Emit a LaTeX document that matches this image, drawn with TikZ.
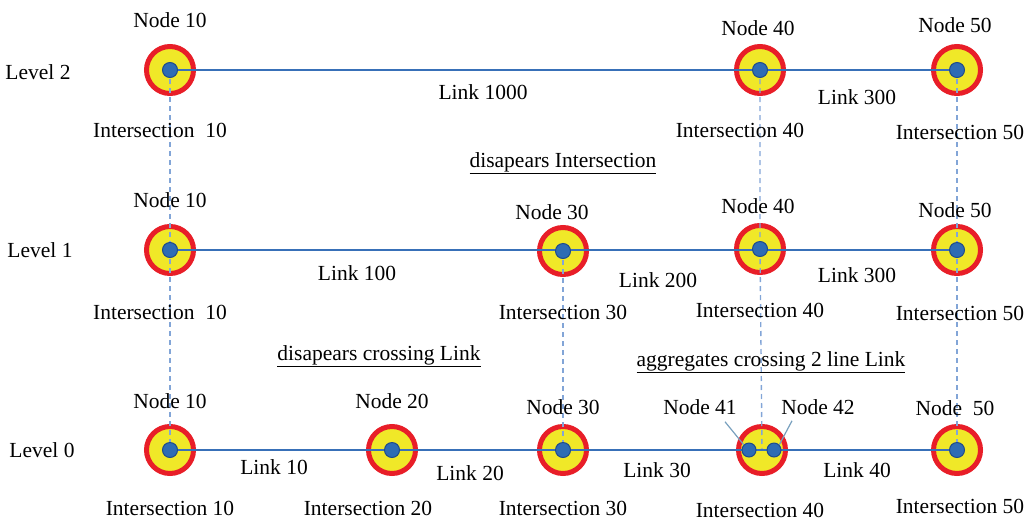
\documentclass[tikz,border=0pt]{standalone}
\usepackage{fontspec}
\setmainfont{Liberation Serif}
\begin{document}
\begin{tikzpicture}[x=1pt,y=-1pt,
  every node/.style={font=\fontsize{21.5}{24}\selectfont, inner sep=0pt},
  ring/.style={circle, draw={rgb,255:red,232;green,30;blue,40}, line width=5pt, fill={rgb,255:red,240;green,232;blue,40}, minimum size=47pt},
  dot/.style={circle, fill={rgb,255:red,46;green,108;blue,180}, draw={rgb,255:red,30;green,75;blue,140}, line width=1pt, minimum size=15pt},
  link/.style={draw={rgb,255:red,56;green,112;blue,184}, line width=2.4pt},
  inter/.style={draw={rgb,255:red,130;green,165;blue,215}, line width=1.4pt, dash pattern=on 5pt off 4pt},
  lead/.style={draw={rgb,255:red,120;green,160;blue,190}, line width=1.2pt}]
\useasboundingbox (0,0) rectangle (1035,520);
% rings
\node[ring] (c2-10) at (170,70) {};
\node[ring] (c2-40) at (760,70) {};
\node[ring] (c2-50) at (957,70) {};
\node[ring] (c1-10) at (170,250) {};
\node[ring] (c1-30) at (563,251) {};
\node[ring] (c1-40) at (760,249) {};
\node[ring] (c1-50) at (957,250) {};
\node[ring] (c0-10) at (170,450) {};
\node[ring] (c0-20) at (392,450) {};
\node[ring] (c0-30) at (563,450) {};
\node[ring] (c0-40) at (762,450) {};
\node[ring] (c0-50) at (957,450) {};
% intersections (dashed verticals)
\draw[inter] (c2-10.center) -- (c1-10.center) -- (c0-10.center);
\draw[inter] (c2-40.center) -- (c1-40.center) -- (c0-40.center);
\draw[inter] (c2-50.center) -- (c1-50.center) -- (c0-50.center);
\draw[inter] (c1-30.center) -- (c0-30.center);
% links
\draw[link] (c2-10.center) -- (c2-40.center) -- (c2-50.center);
\draw[link] (c1-10.center) -- (c1-50.center);
\coordinate (p41) at (749,450);
\coordinate (p42) at (774,450);
\draw[link] (c0-10.center) -- (p41) -- (p42) -- (c0-50.center);
% dots
\node[dot] (d2-10) at (c2-10) {};
\node[dot] (d2-40) at (c2-40) {};
\node[dot] (d2-50) at (c2-50) {};
\node[dot] (d1-10) at (c1-10) {};
\node[dot] (d1-30) at (c1-30) {};
\node[dot] (d1-40) at (c1-40) {};
\node[dot] (d1-50) at (c1-50) {};
\node[dot] (d0-10) at (c0-10) {};
\node[dot] (d0-20) at (c0-20) {};
\node[dot] (d0-30) at (c0-30) {};
\node[dot, minimum size=14pt] (d0-41) at (p41) {};
\node[dot, minimum size=14pt] (d0-42) at (p42) {};
\node[dot] (d0-50) at (c0-50) {};
% level labels
\node (lv2) at (38,72) {Level 2};
\node (lv1) at (40,250) {Level 1};
\node (lv0) at (42,450) {Level 0};
% level 2 texts
\node (t2n10) at (170,20) {Node 10};
\node (t2n40) at (758,28) {Node 40};
\node (t2n50) at (955,25) {Node 50};
\node (t2l1000) at (483,92) {Link 1000};
\node (t2l300) at (857,97) {Link 300};
\node (t2i10) at (160,130) {Intersection\ \ 10};
\node (t2i40) at (740,130) {Intersection 40};
\node (t2i50) at (960,132) {Intersection 50};
\node (nt1) at (563,163) {\underline{disapears Intersection}};
% level 1 texts
\node (t1n10) at (170,200) {Node 10};
\node (t1n30) at (552,212) {Node 30};
\node (t1n40) at (758,206) {Node 40};
\node (t1n50) at (955,210) {Node 50};
\node (t1l100) at (357,273) {Link 100};
\node (t1l200) at (658,280) {Link 200};
\node (t1l300) at (857,275) {Link 300};
\node (t1i10) at (160,312) {Intersection\ \ 10};
\node (t1i30) at (563,312) {Intersection 30};
\node (t1i40) at (760,310) {Intersection 40};
\node (t1i50) at (960,313) {Intersection 50};
\node (nt2) at (379,356) {\underline{disapears crossing Link}};
\node (nt3) at (771,362) {\underline{aggregates crossing 2 line Link}};
% level 0 texts
\node (t0n10) at (170,401) {Node 10};
\node (t0n20) at (392,401) {Node 20};
\node (t0n30) at (563,407) {Node 30};
\node (t0n41) at (700,407) {Node 41};
\node (t0n42) at (818,407) {Node 42};
\node (t0n50) at (955,408) {Node\ \ 50};
\node (t0l10) at (274,467) {Link 10};
\node (t0l20) at (470,473) {Link 20};
\node (t0l30) at (657,470) {Link 30};
\node (t0l40) at (857,470) {Link 40};
\node (t0i10) at (170,508) {Intersection 10};
\node (t0i20) at (368,508) {Intersection 20};
\node (t0i30) at (563,508) {Intersection 30};
\node (t0i40) at (760,510) {Intersection 40};
\node (t0i50) at (960,506) {Intersection 50};
% leaders
\draw[lead] ([shift={(25,7)}]t0n41.south) -- (d0-41.north west);
\draw[lead] ([shift={(-26,6)}]t0n42.south) -- (d0-42.north east);
\end{tikzpicture}
\end{document}
